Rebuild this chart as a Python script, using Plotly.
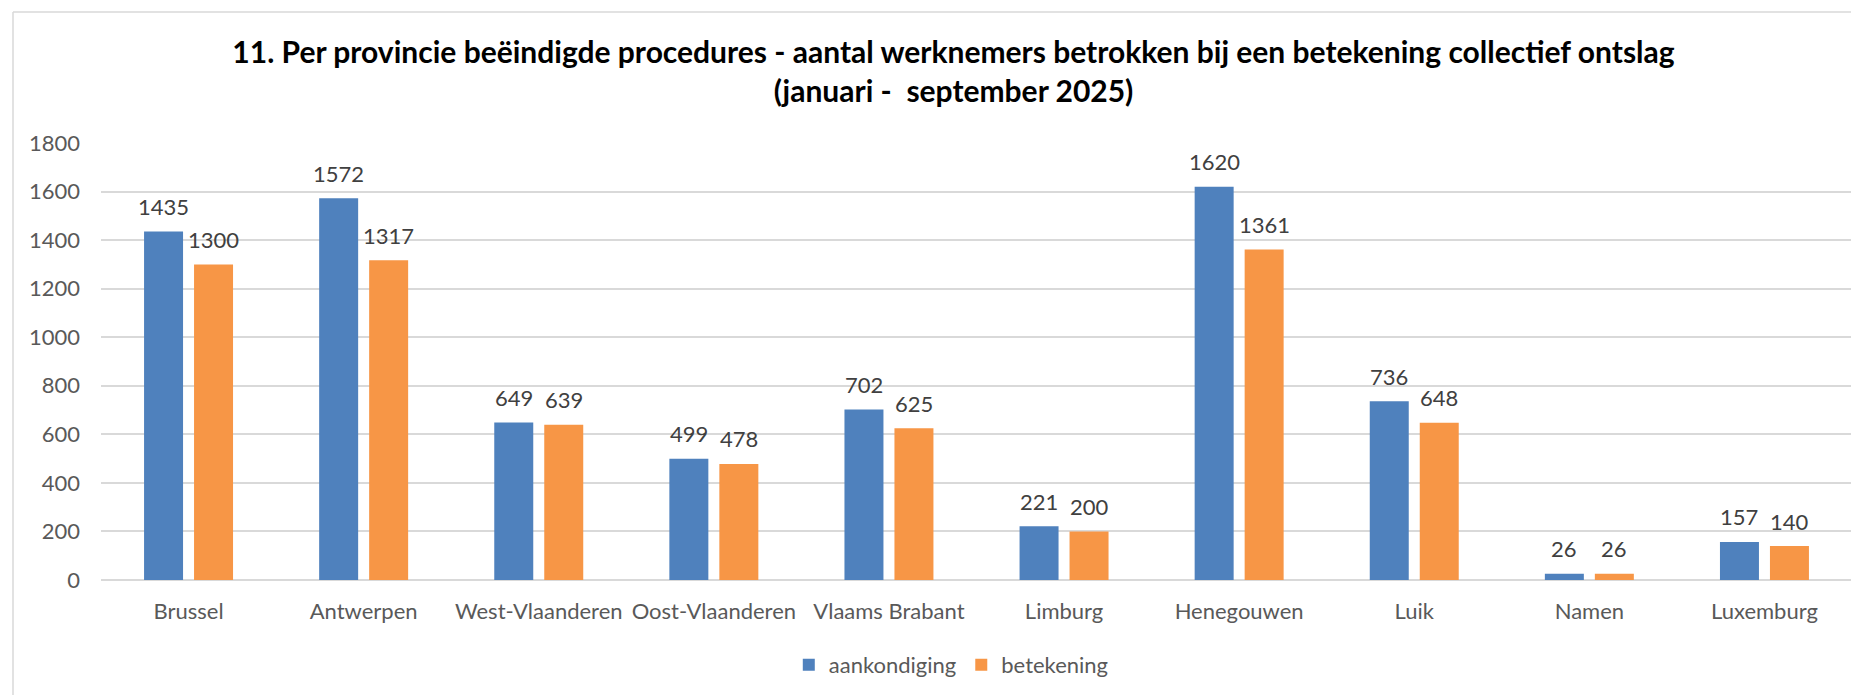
import plotly.graph_objects as go

# data
provincies = ["Brussel", "Antwerpen", "West-Vlaanderen", "Oost-Vlaanderen", "Vlaams Brabant",
              "Limburg", "Henegouwen", "Luik", "Namen", "Luxemburg"]
aankondiging = [1435, 1572, 649, 499, 702, 221, 1620, 736, 26, 157]
betekening = [1300, 1317, 639, 478, 625, 200, 1361, 648, 26, 140]

# page has an 8px body margin, so the figure is a bit smaller than the window
W, H = 1851, 687
left, right, top, bottom = 93, 7, 135, 115

fig = go.Figure()
fig.add_trace(go.Bar(x=provincies, y=aankondiging, name="aankondiging",
                     marker=dict(color="#4F81BD", line=dict(width=0))))
fig.add_trace(go.Bar(x=provincies, y=betekening, name="betekening",
                     marker=dict(color="#F79646", line=dict(width=0))))

# data labels above the bars
for i, p in enumerate(provincies):
    for val, dx in ((aankondiging[i], -25), (betekening[i], 25)):
        fig.add_annotation(x=p, y=val, text=str(val), showarrow=False,
                           xshift=dx, yshift=25, yanchor="middle",
                           font=dict(family="Lato", size=22, color="#404040"))

# chart frame (light grey)
pw = W - left - right
ph = H - top - bottom
x0 = (5 - left) / pw
y0 = (H - bottom - 4) / ph
fig.add_shape(type="line", xref="paper", yref="paper", x0=x0, x1=1.1, y0=y0, y1=y0,
              line=dict(color="#D9D9D9", width=1.5))
fig.add_shape(type="line", xref="paper", yref="paper", x0=x0, x1=x0, y0=y0, y1=-0.5,
              line=dict(color="#D9D9D9", width=1.5))

fig.update_layout(
    width=W, height=H,
    margin=dict(l=left, r=right, t=top, b=bottom),
    paper_bgcolor="white", plot_bgcolor="white",
    barmode="group", bargap=0.429, bargroupgap=0.22,
    title=dict(text="<b>11. Per provincie beëindigde procedures - aantal werknemers betrokken bij een betekening collectief ontslag<br>(januari -  september 2025)</b>",
               x=0.5108, xanchor="center", y=0.92, yanchor="middle",
               font=dict(family="Lato", size=30, color="black")),
    font=dict(family="Lato", size=22, color="#595959"),
    legend=dict(orientation="h", x=0.4856, xanchor="center", y=-0.1945, yanchor="middle",
                font=dict(size=22, color="#595959"), itemwidth=30, traceorder="normal"),
    xaxis=dict(range=[-0.5, 9.5], showline=False, ticks="", showgrid=False,
               ticklabelstandoff=16, tickfont=dict(size=22, color="#595959")),
    yaxis=dict(range=[0, 1800], dtick=200, showgrid=True, gridcolor="#D9D9D9", gridwidth=1.5,
               zeroline=True, zerolinecolor="#D9D9D9", zerolinewidth=1.5,
               ticks="", ticklabelstandoff=20,
               tickfont=dict(size=22, color="#595959")),
)

fig.write_html("out.html")
